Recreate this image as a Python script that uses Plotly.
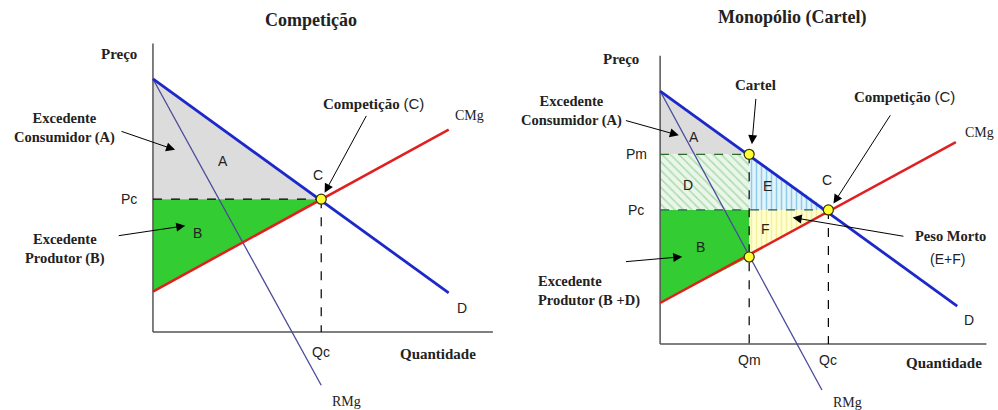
import plotly.graph_objects as go

# ---- Competição (left panel), price/quantity units ----
comp_demanda_q = [0, 8.7]
comp_demanda_p = [10, 1.55]
comp_cmg_q = [0, 8.7]
comp_cmg_p = [1.6, 8.0]
comp_rmg_q = [0, 4.95]
comp_rmg_p = [10, -2.1]
comp_qc, comp_pc = 4.95, 5.25
comp_eixo_q, comp_eixo_p = 10.0, 11.4

# ---- Monopólio (Cartel) (right panel) ----
mono_demanda_q = [0, 8.74]
mono_demanda_p = [10, 1.5]
mono_cmg_q = [0, 8.7]
mono_cmg_p = [1.62, 7.98]
mono_rmg_q = [0, 4.76]
mono_rmg_p = [10, -1.82]
mono_qm, mono_pm = 2.62, 7.5
mono_cmg_qm = 3.44
mono_qc, mono_pc = 4.95, 5.3
mono_eixo_q, mono_eixo_p = 9.6, 11.4

BLUE = "#1c28c8"
RED = "#e02020"
NAVY = "#4a4a9a"
GREY_FILL = "#dcdcdc"
GREEN = "#33cc33"
AXIS = "#555555"
SERIF = "Liberation Serif"
SANS = "Liberation Sans"

fig = go.Figure()


def poly(xs, ys, xa, ya, color, pattern=None):
    fig.add_trace(go.Scatter(
        x=xs + xs[:1], y=ys + ys[:1], xaxis=xa, yaxis=ya,
        mode="lines", fill="toself", fillcolor=color,
        fillpattern=pattern, line=dict(width=0), hoverinfo="skip",
    ))


def line(xs, ys, xa, ya, color, width, dash="solid"):
    fig.add_trace(go.Scatter(
        x=xs, y=ys, xaxis=xa, yaxis=ya, mode="lines",
        line=dict(color=color, width=width, dash=dash), hoverinfo="skip",
    ))


def point(xs, ys, xa, ya):
    fig.add_trace(go.Scatter(
        x=xs, y=ys, xaxis=xa, yaxis=ya, mode="markers",
        marker=dict(size=10, color="#ffff33", line=dict(color="#333300", width=1.2)),
        hoverinfo="skip",
    ))


# ---------- left panel ----------
xa, ya = "x", "y"
a0 = comp_demanda_p[0]
poly([0, comp_qc, 0], [a0, comp_pc, comp_pc], xa, ya, GREY_FILL)
poly([0, comp_qc, 0], [comp_pc, comp_pc, comp_cmg_p[0]], xa, ya, GREEN)
line([0, 0], [0, comp_eixo_p], xa, ya, AXIS, 1.5)
line([0, comp_eixo_q], [0, 0], xa, ya, AXIS, 1.5)
line([0, comp_qc], [comp_pc, comp_pc], xa, ya, "black", 1.2, "dash")
line([comp_qc, comp_qc], [comp_pc, 0], xa, ya, "black", 1.2, "dash")
line(comp_rmg_q, comp_rmg_p, xa, ya, NAVY, 1.3)
line(comp_cmg_q, comp_cmg_p, xa, ya, RED, 2.5)
line(comp_demanda_q, comp_demanda_p, xa, ya, BLUE, 2.8)
point([comp_qc], [comp_pc], xa, ya)

# ---------- right panel ----------
xa, ya = "x2", "y2"
a0 = mono_demanda_p[0]
poly([0, mono_qm, 0], [a0, mono_pm, mono_pm], xa, ya, GREY_FILL)
poly([0, mono_qm, mono_qm, 0], [mono_pm, mono_pm, mono_pc, mono_pc], xa, ya, "#eaf6ea",
     dict(shape="\\", fgcolor="#6cbf6c", bgcolor="#eaf6ea", size=6, solidity=0.25))
poly([mono_qm, mono_qc, mono_qm], [mono_pm, mono_pc, mono_pc], xa, ya, "#e2f4fb",
     dict(shape="|", fgcolor="#3aa6d8", bgcolor="#e2f4fb", size=5, solidity=0.3))
poly([mono_qm, mono_qc, mono_qm], [mono_pc, mono_pc, mono_cmg_qm], xa, ya, "#ffffd0",
     dict(shape="|", fgcolor="#ece070", bgcolor="#ffffd0", size=5, solidity=0.3))
poly([0, mono_qm, mono_qm, 0], [mono_pc, mono_pc, mono_cmg_qm, mono_cmg_p[0]], xa, ya, GREEN)
line([0, 0], [0, mono_eixo_p], xa, ya, AXIS, 1.5)
line([0, mono_eixo_q], [0, 0], xa, ya, AXIS, 1.5)
line([0, mono_qm], [mono_pm, mono_pm], xa, ya, "#2a6a2a", 1.2, "dash")
line([0, mono_qc], [mono_pc, mono_pc], xa, ya, "#1f5f5f", 1.2, "dash")
line([mono_qm, mono_qm], [mono_pm, 0], xa, ya, "black", 1.2, "dash")
line([mono_qc, mono_qc], [mono_pc, 0], xa, ya, "black", 1.2, "dash")
line(mono_rmg_q, mono_rmg_p, xa, ya, NAVY, 1.3)
line(mono_cmg_q, mono_cmg_p, xa, ya, RED, 2.5)
line(mono_demanda_q, mono_demanda_p, xa, ya, BLUE, 2.8)
point([mono_qm, mono_qc, mono_qm], [mono_pm, mono_pc, mono_cmg_qm], xa, ya)

# ---------- text ----------
ann = []


def txt(x, y, s, xr, yr, size=13, family=SANS, bold=False, align="center",
        xanchor="center"):
    ann.append(dict(x=x, y=y, xref=xr, yref=yr, text=f"<b>{s}</b>" if bold else s,
                    showarrow=False, align=align, xanchor=xanchor, yanchor="middle",
                    font=dict(family=family, size=size, color="#222222")))


def arrow(x0, y0, x1, y1, xr, yr):
    ann.append(dict(x=x1, y=y1, ax=x0, ay=y0, xref=xr, yref=yr, axref=xr, ayref=yr,
                    text="", showarrow=True, arrowhead=2, arrowsize=1.8,
                    arrowwidth=1, arrowcolor="black"))


comp_label = ("<b>Competição</b> <span style='font-family:Liberation Sans;"
              "font-weight:normal'>(C)</span>")

# left
xr, yr = "x", "y"
txt(-1.0, 11.0, "Preço", xr, yr, 15, SERIF, True)
txt(-0.7, comp_pc, "Pc", xr, yr, 14)
txt(comp_qc, -0.8, "Qc", xr, yr, 14)
txt(8.4, -0.85, "Quantidade", xr, yr, 15, SERIF, True)
txt(5.7, -2.75, "RMg", xr, yr, 14, SERIF)
txt(9.1, 0.95, "D", xr, yr, 14)
txt(9.3, 8.55, "CMg", xr, yr, 14, SERIF)
txt(4.85, 6.2, "C", xr, yr, 14)
txt(2.05, 6.75, "A", xr, yr, 14)
txt(1.3, 3.9, "B", xr, yr, 14)
txt(-2.6, 8.05, "Excedente<br>Consumidor (A)", xr, yr, 14.5, SERIF, True)
txt(-2.6, 3.3, "Excedente<br>Produtor (B)", xr, yr, 14.5, SERIF, True)
ann.append(dict(x=6.5, y=9.05, xref=xr, yref=yr, text=comp_label, showarrow=False,
                font=dict(family=SERIF, size=15, color="#222222")))
arrow(-0.97, 7.95, 0.65, 7.2, xr, yr)
arrow(-1.05, 3.8, 0.95, 4.2, xr, yr)
arrow(6.3, 8.6, 5.05, 5.5, xr, yr)

# right
xr, yr = "x2", "y2"
txt(-1.15, 11.25, "Preço", xr, yr, 15, SERIF, True)
txt(-0.7, mono_pm, "Pm", xr, yr, 14)
txt(-0.7, mono_pc, "Pc", xr, yr, 14)
txt(mono_qm, -0.65, "Qm", xr, yr, 14)
txt(mono_qc, -0.65, "Qc", xr, yr, 14)
txt(8.35, -0.75, "Quantidade", xr, yr, 15, SERIF, True)
txt(5.5, -2.3, "RMg", xr, yr, 14, SERIF)
txt(9.1, 0.95, "D", xr, yr, 14)
txt(9.4, 8.35, "CMg", xr, yr, 14, SERIF)
txt(4.9, 6.5, "C", xr, yr, 14)
txt(1.0, 8.2, "A", xr, yr, 14)
txt(0.82, 6.3, "D", xr, yr, 14)
txt(3.17, 6.25, "E", xr, yr, 14)
txt(3.1, 4.55, "F", xr, yr, 14)
txt(1.18, 3.85, "B", xr, yr, 14)
txt(2.8, 10.25, "Cartel", xr, yr, 15, SERIF, True)
txt(8.55, 4.25, "Peso Morto", xr, yr, 14.5, SERIF, True)
txt(8.45, 3.35, "(E+F)", xr, yr, 14)
txt(-2.6, 9.2, "Excedente<br>Consumidor (A)", xr, yr, 14.5, SERIF, True)
txt(-3.65, 2.1, "Excedente<br>Produtor (B +D)", xr, yr, 14.5, SERIF, True,
    align="left", xanchor="left")
ann.append(dict(x=7.2, y=9.8, xref=xr, yref=yr, text=comp_label, showarrow=False,
                font=dict(family=SERIF, size=15, color="#222222")))
arrow(-1.05, 8.85, 0.55, 8.25, xr, yr)
arrow(-1.05, 3.25, 0.65, 3.45, xr, yr)
arrow(2.82, 9.75, 2.7, 7.9, xr, yr)
arrow(6.8, 9.1, 5.1, 5.55, xr, yr)
arrow(7.2, 4.25, 3.9, 5.0, xr, yr)

# titles
txt(0.312, 0.951, "Competição", "paper", "paper", 18, SERIF, True)
txt(0.794, 0.958, "Monopólio (Cartel)", "paper", "paper", 18, SERIF, True)

hidden = dict(visible=False, fixedrange=True)
fig.update_layout(
    width=998, height=410,
    margin=dict(l=0, r=0, t=0, b=0),
    paper_bgcolor="white", plot_bgcolor="white",
    showlegend=False,
    xaxis=dict(domain=[0, 0.5], range=[-4.5, 10.18], **hidden),
    yaxis=dict(domain=[0, 1], range=[-3.08, 13.12], **hidden),
    xaxis2=dict(domain=[0.5, 1], range=[-4.74, 9.94], **hidden),
    yaxis2=dict(domain=[0, 1], range=[-2.61, 13.6], anchor="x2", **hidden),
    annotations=ann,
)

# the page's default 8px body margin would shift the figure off the window
fig.write_html("out.html", config={"displayModeBar": False},
               post_script="document.body.style.margin='0';")
